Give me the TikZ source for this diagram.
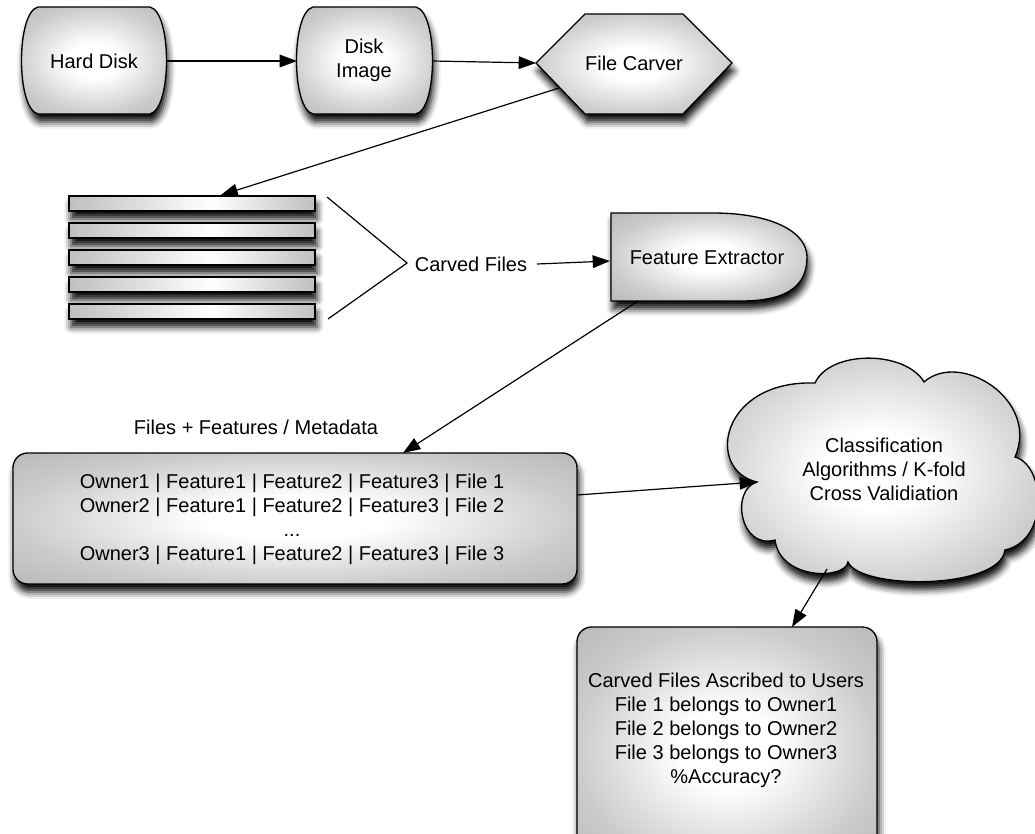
\documentclass[tikz,border=0pt]{standalone}
\usepackage{fontspec}
\setmainfont{Liberation Sans}
\usetikzlibrary{arrows.meta,shadows.blur,calc}

% soft radial fill: white centre, grey rim
\pgfdeclareradialshading{glow}{\pgfpoint{0bp}{0bp}}{%
  color(0bp)=(white); color(8bp)=(white); color(25bp)=(black!20);
  color(36bp)=(black!28); color(50bp)=(black!28)}
% horizontal fill of the file bars
\pgfdeclarehorizontalshading{barglow}{100bp}{%
  color(0bp)=(black!25); color(25bp)=(black!25); color(54bp)=(white);
  color(75bp)=(black!25); color(100bp)=(black!25)}

% rounded drum outline with bulging sides: x0, y0, x1, y1
\newcommand\drumshape[4]{%
  \path[shp] (#1+16,#2) -- (#3-16,#2)
    .. controls (#3+6,#2+5) and (#3+6,#4-5) .. (#3-16,#4)
    -- (#1+16,#4)
    .. controls (#1-6,#4-5) and (#1-6,#2+5) .. (#1+16,#2) -- cycle;}

\tikzset{
  softshadow/.style={blur shadow={shadow xshift=1.5pt, shadow yshift=-6pt,
      shadow blur radius=5pt, shadow opacity=95}},
  shp/.style={draw=black, line width=1pt, shading=glow, shade, softshadow},
  barshp/.style={draw=black, line width=1pt, shading=barglow, shade, softshadow,
      inner sep=0pt, minimum width=184.5pt, minimum height=11.25pt},
  lbl/.style={font=\fontsize{15pt}{18pt}\selectfont, align=center, inner sep=0pt},
  >={Triangle[length=13pt,width=9.5pt]},
  conn/.style={draw=black, line width=0.9pt, ->},
  plain/.style={draw=black, line width=0.9pt}
}

\begin{document}
\begin{tikzpicture}[x=0.75pt, y=-0.75pt]
\useasboundingbox (0,0) rectangle (1035,834);

% ---- shapes ----
\drumshape{22}{7}{166}{114}
\drumshape{297}{7}{432}{114}
\path[shp] (536,63) -- (585,14) -- (683,14) -- (732,63) -- (683,114) -- (585,114) -- cycle;

\foreach \n/\t in {1/196,2/223,3/250,4/277,5/304}
  \node[barshp] (bar\n) at (192,\t+7.5) {};

\path[shp] (611,213) -- (713,213)
  .. controls (772,213) and (807,232) .. (807,257)
  .. controls (807,284) and (790,300) .. (745,301)
  -- (611,301) -- cycle;

\path[shp, rounded corners=11pt] (13,453) rectangle (577,584);

\path[shp] (757,482)
  .. controls (705,470) and (720,380) .. (815,383)
  .. controls (830,350) and (905,350) .. (924,382)
  .. controls (960,350) and (1040,400) .. (1015,457)
  .. controls (1045,465) and (1050,540) .. (1005,550)
  .. controls (1000,590) and (860,590) .. (848,562)
  .. controls (845,580) and (780,580) .. (775,540)
  .. controls (740,550) and (730,490) .. (757,482) -- cycle;

\path[shp, rounded corners=11pt] (577,627) rectangle (877,870);

% ---- labels ----
\node[lbl] (hd) at (94,61) {Hard Disk};
\node[lbl] (di) at (364,60) {Disk\\Image};
\node[lbl] (fc) at (634,63) {File Carver};
\node[lbl] (cf) at (471,264) {Carved Files};
\node[lbl] (fe) at (707,258) {Feature Extractor};
\node[lbl] (md) at (256,427) {Files + Features / Metadata};
\node[lbl] (tab) at (292,519) {Owner1 | Feature1 | Feature2 | Feature3 | File 1\\
  Owner2 | Feature1 | Feature2 | Feature3 | File 2\\
  ...\\
  Owner3 | Feature1 | Feature2 | Feature3 | File 3};
\node[lbl] (cl) at (884,469) {Classification\\Algorithms / K-fold\\Cross Validiation};
\node[lbl] (res) at (726,730) {Carved Files Ascribed to Users\\File 1 belongs to Owner1\\
  File 2 belongs to Owner2\\File 3 belongs to Owner3\\\%Accuracy?};

% ---- connector ends on the outlines ----
\coordinate (hd-e) at (166,61);
\coordinate (di-w) at (297,61);
\coordinate (di-e) at (432,61);
\coordinate (fc-w) at (536,63);
\coordinate (fc-sw) at (559,88);
\coordinate (bar-top) at ($(bar1.north west)!0.615!(bar1.north east)$);
\coordinate (br-top) at (327,197);
\coordinate (br-tip) at (407,263);
\coordinate (br-bot) at (328,319);
\coordinate (cf-e) at (537,264);
\coordinate (fe-w) at (610,261);
\coordinate (fe-s) at (638,301);
\coordinate (tab-n) at (403,453);
\coordinate (tab-e) at (577,495);
\coordinate (cl-w) at (757,482);
\coordinate (cl-s) at (827,569);
\coordinate (res-n) at (792,627);

% ---- connectors ----
\path[conn] (hd-e) -- (di-w);
\path[conn] (di-e) -- (fc-w);
\path[conn] (fc-sw) -- (bar-top);
\path[plain] (br-top) -- (br-tip) -- (br-bot);
\path[conn] (cf-e) -- (fe-w);
\path[conn] (fe-s) -- (tab-n);
\path[conn] (tab-e) -- (cl-w);
\path[conn] (cl-s) -- (res-n);
\end{tikzpicture}
\end{document}
